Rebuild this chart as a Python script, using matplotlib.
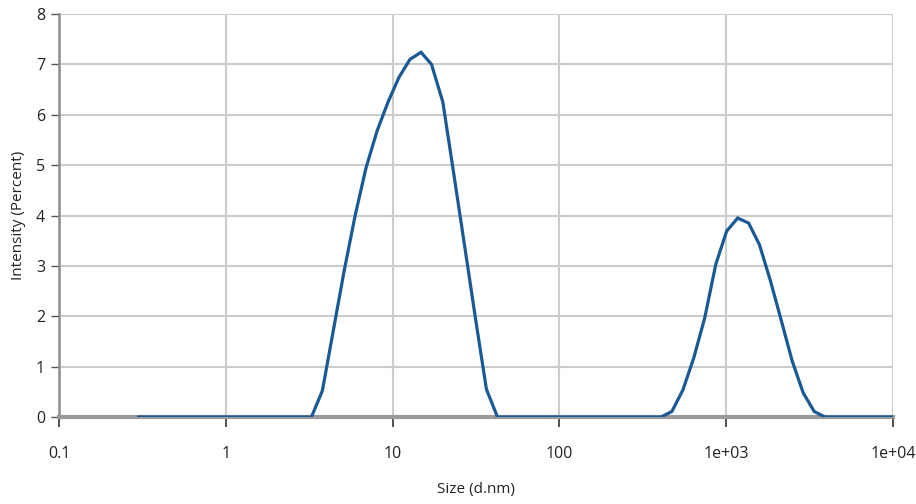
import matplotlib
matplotlib.use("Agg")
import matplotlib.pyplot as plt
from matplotlib.ticker import FixedLocator, NullLocator

plt.rcParams['font.family'] = ['Open Sans', 'DejaVu Sans']

# size distribution by intensity (d.nm vs %)
size_nm = [0.3, 3.26,
           3.79, 4.40, 5.12, 5.96, 6.93, 8.07, 9.38, 10.9, 12.7, 14.8,
           17.1, 20.0, 23.2, 27.0, 31.4, 36.5, 42.5,
           406, 472, 550, 638, 743, 865, 1005, 1170, 1361, 1581, 1841,
           2143, 2485, 2891, 3365, 3908, 10000]
intensity = [0.0, 0.0,
             0.52, 1.7, 2.9, 4.0, 4.95, 5.68, 6.25, 6.74, 7.1, 7.24,
             7.0, 6.25, 4.85, 3.4, 1.95, 0.55, 0.0,
             0.0, 0.11, 0.54, 1.17, 1.97, 3.03, 3.69, 3.95, 3.85, 3.42, 2.70,
             1.90, 1.11, 0.48, 0.11, 0.0, 0.0]

xticks = [0.1, 1, 10, 100, 1000, 10000]
xtick_labels = ['0.1', '1', '10', '100', '1e+03', '1e+04']
yticks = list(range(0, 9))

fig = plt.figure(figsize=(9.16, 5.04), dpi=100)
ax = fig.add_axes([0.0644, 0.1726, 0.9106, 0.7996])

ax.plot(size_nm, intensity, color='#1a5994', lw=2.3, solid_joinstyle='miter', zorder=3)

ax.set_xscale('log')
ax.set_xlim(0.1, 10000)
ax.set_ylim(0, 8)
ax.xaxis.set_major_locator(FixedLocator(xticks))
ax.xaxis.set_minor_locator(NullLocator())
ax.set_xticklabels(xtick_labels)
ax.set_yticks(yticks)

ax.grid(True, color='#cccccc', lw=1.5)
ax.set_axisbelow(True)

for side in ('top', 'right'):
    ax.spines[side].set_visible(False)
ax.spines['left'].set_color('#8c8c8c')
ax.spines['left'].set_linewidth(1.8)
ax.spines['bottom'].set_color('#9a9a9a')
ax.spines['bottom'].set_linewidth(3)

ax.tick_params(axis='x', direction='out', length=7, width=1.2, color='#333333',
               pad=14, labelsize=11.5, labelcolor='#222222')
ax.tick_params(axis='y', direction='out', length=6, width=1.0, color='#555555',
               pad=4, labelsize=11.5, labelcolor='#222222')

ax.set_xlabel('Size (d.nm)', fontsize=11, color='#222222', labelpad=14)
ax.set_ylabel('Intensity (Percent)', fontsize=11, color='#222222', labelpad=7)

fig.savefig('out.png', dpi=100)
